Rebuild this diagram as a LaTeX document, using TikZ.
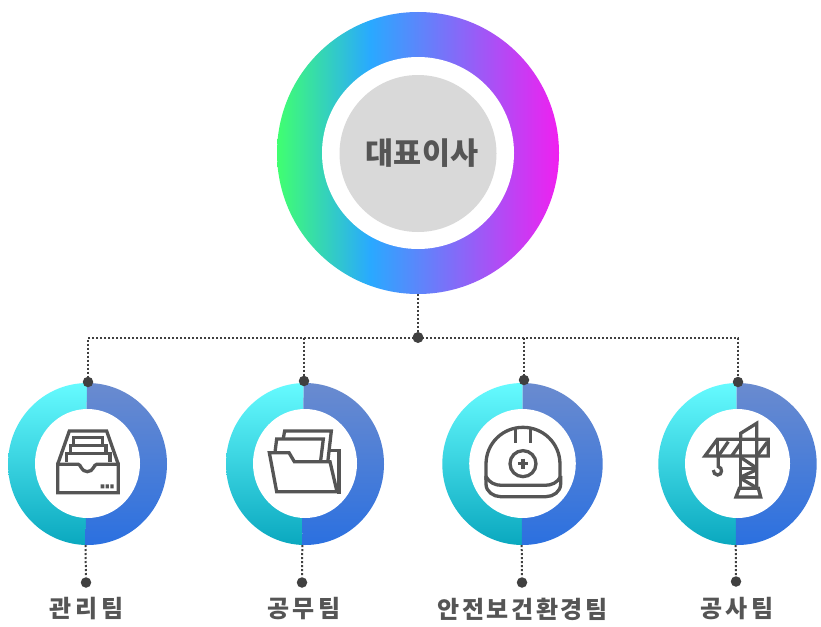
\documentclass[tikz,border=0pt]{standalone}
\usepackage{fontspec}
\newfontfamily\kr{Noto Sans CJK KR}
\newfontfamily\krwide{Noto Sans CJK KR}[LetterSpace=16]
\newfontfamily\krmid{Noto Sans CJK KR}[LetterSpace=11]
\definecolor{ink}{HTML}{555555}
\definecolor{wire}{HTML}{404040}
\definecolor{disc}{HTML}{D9D9D9}
\definecolor{tealtop}{HTML}{66FBFF}
\definecolor{tealbot}{HTML}{0AA8BF}
\definecolor{bluetop}{HTML}{6A8BCF}
\definecolor{bluebot}{HTML}{2B70E0}
\definecolor{rbA}{HTML}{40FF70}
\definecolor{rbB}{HTML}{29A9FF}
\definecolor{rbC}{HTML}{F020F0}
\pgfdeclarehorizontalshading{rainbow}{100bp}{color(0bp)=(rbA); color(25bp)=(rbA); color(41.5bp)=(rbB); color(75bp)=(rbC); color(100bp)=(rbC)}
\tikzset{
  link/.style={draw=wire,line width=2pt,dash pattern=on 2pt off 2pt},
  pin/.style={circle,fill=wire,draw=none,inner sep=0pt,minimum size=10.5pt},
  icon/.style={draw=ink,line width=3.3pt,line join=miter,fill=none},
  teamlabel/.style={text=ink,inner sep=0pt},
  hole/.style={circle,fill=white,draw=none,inner sep=0pt},
}
% id, centre x, split x at top, split x at bottom, outer x radius, inner x radius
\newcommand{\teamring}[6]{%
  \begin{scope}
    \clip (#3,370) -- (#4,560) -- (#2-100,560) -- (#2-100,370) -- cycle;
    \shade[top color=tealtop,bottom color=tealbot] (#2,464) ellipse [x radius=#5,y radius=81];
  \end{scope}
  \begin{scope}
    \clip (#3,370) -- (#4,560) -- (#2+100,560) -- (#2+100,370) -- cycle;
    \shade[top color=bluetop,bottom color=bluebot] (#2,464) ellipse [x radius=#5,y radius=81];
  \end{scope}
  \fill[white] (#2,463.5) ellipse [x radius=#6,y radius=54.5];
  \coordinate (#1s) at (#4,545);
}
\begin{document}
\begin{tikzpicture}[x=1pt,y=-1pt]
\useasboundingbox (0,0) rectangle (821,626);
\fill[white] (0,0) rectangle (821,626);

% top ring
\node[circle,inner sep=0pt,minimum size=282pt,shading=rainbow] (ring0) at (418,153) {};
\node[hole,minimum size=192pt] (hole0) at (418,153) {};
\node[circle,fill=disc,inner sep=0pt,minimum size=157pt] (ceo) at (418,153.5) {};
\node[text=ink,inner sep=0pt,font=\kr\fontsize{30.5}{32}\selectfont\bfseries] (ceotext) at (422,153) {대표이사};

% team rings
\teamring{a}{87.5}{87}{85.5}{79.5}{52.5}
\teamring{b}{305}{303.7}{302.3}{79}{52}
\teamring{c}{522.5}{522.7}{521.7}{80.2}{53.3}
\teamring{d}{737.5}{736.7}{735.7}{79.2}{52.5}

% pins
\node[pin,minimum size=11pt] (hub) at (418,337.5) {};
\node[pin] (t1) at (88,382) {};
\node[pin] (t2) at (304,381) {};
\node[pin] (t3) at (524,380) {};
\node[pin] (t4) at (738,382) {};
\node[pin] (b1) at (86,582.5) {};
\node[pin] (b2) at (302,582.5) {};
\node[pin] (b3) at (522,582.5) {};
\node[pin] (b4) at (736,581.5) {};

% connectors
\draw[link] (ring0.south) -- (hub);
\draw[link] (hub.center) -| (t1);
\draw[link] (hub.center) -| (t4);
\draw[link] (t2 |- hub) -- (t2);
\draw[link] (t3 |- hub) -- (t3);
\draw[link] (as) -- (b1);
\draw[link] (bs) -- (b2);
\draw[link] (cs) -- (b3);
\draw[link] (ds) -- (b4);

% labels
\node[teamlabel,font=\krwide\fontsize{24}{26}\selectfont\bfseries] (l1) at (86.5,609) {관리팀};
\node[teamlabel,font=\krwide\fontsize{24}{26}\selectfont\bfseries] (l2) at (304,609) {공무팀};
\node[teamlabel,font=\krmid\fontsize{24}{26}\selectfont\bfseries] (l3) at (522.5,609) {안전보건환경팀};
\node[teamlabel,font=\krwide\fontsize{24}{26}\selectfont\bfseries] (l4) at (737,609) {공사팀};

% icon 1: tray
\begin{scope}[shift={(0,370)},x=0.3333pt,y=-0.3333pt]
  \draw[icon] (173,283) -- (235,283) .. controls (243,283) and (243,305) .. (262,305) .. controls (281,305) and (281,283) .. (290,283) -- (355,283) -- (355,368) -- (173,368) -- cycle;
  \draw[icon] (173,283) -- (208,183) -- (320,183) -- (355,283);
  \draw[icon] (199,275) -- (199,250) -- (330,250) -- (330,275);
  \draw[icon] (211,248) -- (211,226) -- (318,226) -- (318,248);
  \draw[icon] (221,224) -- (221,203) -- (308,203) -- (308,224);
  \fill[ink] (302,343) rectangle (313,355) (317,343) rectangle (327,355) (331,343) rectangle (341,355);
\end{scope}

% icon 2: folder
\begin{scope}[shift={(215,370)},x=0.3333pt,y=-0.3333pt]
  \draw[icon] (205,205) -- (209,183) -- (349,183) -- (339,270);
  \draw[icon] (180,247) -- (185,207) -- (325,207) -- (317,272);
  \draw[icon] (163,248) -- (222,248) -- (238,275) -- (345,275) -- (366,365) -- (185,365) -- cycle;
  \draw[icon] (345,242) -- (372,242) -- (372,366) -- (366,366);
\end{scope}

% icon 3: helmet
\begin{scope}[shift={(430,370)},x=0.3333pt,y=-0.3333pt]
  \draw[icon] (168,330) -- (168,283) .. controls (168,220) and (218,172) .. (279,172) .. controls (340,172) and (390,220) .. (390,283) -- (390,330);
  \draw[icon] (168,318) -- (168,342) .. controls (168,365) and (190,380) .. (212,380) -- (348,380) .. controls (370,380) and (392,365) .. (392,342) -- (392,318);
  \draw[icon] (168,320) .. controls (178,338) and (195,346) .. (215,346) -- (345,346) .. controls (365,346) and (382,338) .. (392,320);
  \draw[icon] (257,176) -- (257,219);
  \draw[icon] (302,176) -- (302,219);
  \draw[icon] (279,281) circle [radius=39];
  \draw[icon,line width=3.6pt] (264,281) -- (294,281) (279,266) -- (279,296);
\end{scope}

% icon 4: crane
\begin{scope}[shift={(650,370)},x=0.3333pt,y=-0.3333pt]
  \draw[icon] (165,258) -- (202,208) -- (355,208) -- (355,258) -- cycle;
  \draw[icon] (272,208) -- (272,190) -- (320,160) -- (320,355);
  \draw[icon] (272,258) -- (272,355);
  \draw[icon] (202,208) -- (202,258);
  \draw[icon] (272,208) -- (272,258);
  \draw[icon] (205,258) -- (235,215);
  \draw[icon] (245,258) -- (272,220);
  \draw[icon] (322,256) -- (352,216);
  \draw[icon] (275,264) -- (318,293);
  \draw[icon] (272,296) -- (320,296);
  \draw[icon] (318,300) -- (275,320);
  \draw[icon] (272,323) -- (320,323);
  \draw[icon] (275,327) -- (318,352);
  \draw[icon] (258,381) -- (268,355) -- (325,355) -- (332,381) -- cycle;
  \draw[icon] (205,258) -- (205,290) .. controls (218,292) and (218,315) .. (203,315) .. controls (195,315) and (190,308) .. (190,300);
\end{scope}
\end{tikzpicture}
\end{document}
